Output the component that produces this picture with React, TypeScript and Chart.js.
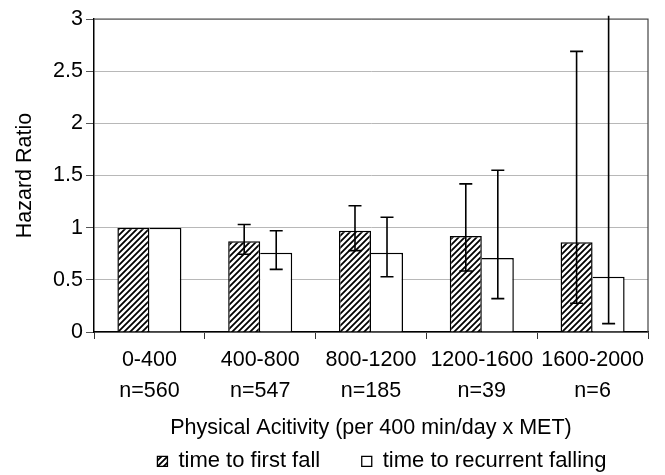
import { useEffect, useRef } from 'react';
import { Chart, registerables } from 'chart.js';

Chart.register(...registerables);

const rangeLabels = ['0-400', '400-800', '800-1200', '1200-1600', '1600-2000'];
const sampleSizes = ['n=560', 'n=547', 'n=185', 'n=39', 'n=6'];

const firstFall = [1.0, 0.87, 0.97, 0.92, 0.86];
const firstFallLower = [null, 0.745, 0.78, 0.585, 0.275];
const firstFallUpper = [null, 1.03, 1.21, 1.42, 2.69];

const recurrent = [1.0, 0.76, 0.76, 0.71, 0.53];
const recurrentLower = [null, 0.6, 0.53, 0.32, 0.08];
const recurrentUpper = [null, 0.97, 1.1, 1.55, 3.03];

const yTickValues = [0, 0.5, 1, 1.5, 2, 2.5, 3];

const FONT = "'Liberation Sans', Arial, sans-serif";

function makeHatch(): CanvasPattern | string {
  const s = 6;
  const tile = document.createElement('canvas');
  tile.width = s;
  tile.height = s;
  const c = tile.getContext('2d');
  if (!c) return '#888';
  c.fillStyle = '#fff';
  c.fillRect(0, 0, s, s);
  c.strokeStyle = '#000';
  c.lineWidth = 1.8;
  c.beginPath();
  c.moveTo(0, s);
  c.lineTo(s, 0);
  c.moveTo(-1, 1);
  c.lineTo(1, -1);
  c.moveTo(s - 1, s + 1);
  c.lineTo(s + 1, s - 1);
  c.stroke();
  const p = c.createPattern(tile, 'repeat');
  return p || '#888';
}

const errorBarPlugin = {
  id: 'errorBars',
  afterDatasetsDraw(chart: any) {
    const ctx = chart.ctx;
    const yScale = chart.scales.y;
    const sets = [
      [firstFallLower, firstFallUpper],
      [recurrentLower, recurrentUpper],
    ];
    ctx.save();
    ctx.strokeStyle = '#000';
    ctx.lineWidth = 1.6;
    sets.forEach(([lo, hi], d) => {
      const meta = chart.getDatasetMeta(d);
      meta.data.forEach((bar: any, i: number) => {
        const l = lo[i];
        const h = hi[i];
        if (l == null || h == null) return;
        const x = bar.x;
        const yl = yScale.getPixelForValue(l);
        const yh = yScale.getPixelForValue(h);
        const half = 6.5;
        ctx.beginPath();
        ctx.moveTo(x, yl);
        ctx.lineTo(x, yh);
        ctx.moveTo(x - half, yl);
        ctx.lineTo(x + half, yl);
        if (h <= yScale.max) {
          ctx.moveTo(x - half, yh);
          ctx.lineTo(x + half, yh);
        }
        ctx.stroke();
      });
    });
    ctx.restore();
  },
};

const frameBorderPlugin = {
  id: 'frameBorder',
  beforeDatasetsDraw(chart: any) {
    const { ctx, chartArea } = chart;
    ctx.save();
    ctx.strokeStyle = '#444';
    ctx.lineWidth = 1.2;
    ctx.beginPath();
    ctx.moveTo(chartArea.left, chartArea.top);
    ctx.lineTo(chartArea.right, chartArea.top);
    ctx.lineTo(chartArea.right, chartArea.bottom);
    ctx.stroke();
    ctx.restore();
  },
};

export default function App() {
  const ref = useRef<HTMLCanvasElement | null>(null);

  useEffect(() => {
    if (!ref.current) return;
    const hatch = makeHatch();
    const labels = rangeLabels.map((r, i) => [r, sampleSizes[i]]);
    const defaultGen = (Chart.defaults.plugins.legend.labels as any).generateLabels;

    const chart = new Chart(ref.current, {
      type: 'bar',
      data: {
        labels,
        datasets: [
          {
            label: 'time to first fall',
            data: firstFall,
            backgroundColor: hatch as any,
            borderColor: '#000',
            borderWidth: { top: 1.5, left: 1.5, right: 1.5, bottom: 0 } as any,
            borderSkipped: false,
            categoryPercentage: 0.578,
            barPercentage: 1,
          },
          {
            label: 'time to recurrent falling',
            data: recurrent,
            backgroundColor: '#fff',
            borderColor: '#000',
            borderWidth: { top: 1.5, left: 0, right: 1.5, bottom: 0 } as any,
            borderSkipped: false,
            categoryPercentage: 0.578,
            barPercentage: 1,
          },
        ],
      },
      options: {
        animation: false,
        responsive: false,
        maintainAspectRatio: false,
        layout: { padding: { top: 19, right: 17, left: 0, bottom: 0 } },
        scales: {
          x: {
            afterFit: (s: any) => {
              s.height = 76.9;
            },
            grid: {
              display: true,
              drawOnChartArea: false,
              drawTicks: true,
              tickLength: 7,
              tickColor: '#333',
              offset: true,
            },
            border: { display: true, color: '#000', width: 1.5 },
            ticks: {
              color: '#000',
              padding: 6,
              maxRotation: 0,
              autoSkip: false,
              font: { family: FONT, size: 21.5, lineHeight: 1.442 },
            },
            title: {
              display: true,
              text: 'Physical Acitivity (per 400 min/day x MET)',
              color: '#000',
              font: { family: FONT, size: 21.5, lineHeight: 1.2 },
              padding: { top: 0, bottom: -32.5 },
            },
          },
          y: {
            min: 0,
            max: 3,
            afterFit: (s: any) => {
              s.width = 94;
            },
            afterBuildTicks: (s: any) => {
              s.ticks = yTickValues.map((v) => ({ value: v }));
            },
            grid: {
              color: '#b8b8b8',
              lineWidth: 1,
              drawTicks: true,
              tickLength: 8,
              tickColor: '#555',
            },
            border: { display: true, color: '#000', width: 1.5 },
            ticks: {
              color: '#000',
              padding: 3,
              callback: (v: any) => String(Number(v)),
              font: { family: FONT, size: 21.5, lineHeight: 1.2 },
            },
            title: {
              display: true,
              text: 'Hazard Ratio',
              color: '#000',
              font: { family: FONT, size: 21.5, lineHeight: 1.2 },
              padding: { top: 12.6, bottom: 0 },
            },
          },
        },
        plugins: {
          tooltip: { enabled: false },
          legend: {
            display: true,
            position: 'bottom',
            align: 'end',
            fullSize: false,
            maxHeight: 66.1,
            labels: {
              color: '#000',
              boxWidth: 10,
              boxHeight: 10,
              padding: 41.5,
              font: { family: FONT, size: 22 },
              generateLabels: (c: any) =>
                defaultGen(c).map((it: any) => ({ ...it, lineWidth: 1.3, strokeStyle: '#000' })),
            },
          },
        },
      },
      plugins: [frameBorderPlugin, errorBarPlugin],
    } as any);

    return () => chart.destroy();
  }, []);

  return (
    <div style={{ position: 'absolute', left: 0, top: 0, width: 665, height: 475, background: '#fff' }}>
      <canvas ref={ref} width={665} height={475} style={{ display: 'block' }} />
    </div>
  );
}
